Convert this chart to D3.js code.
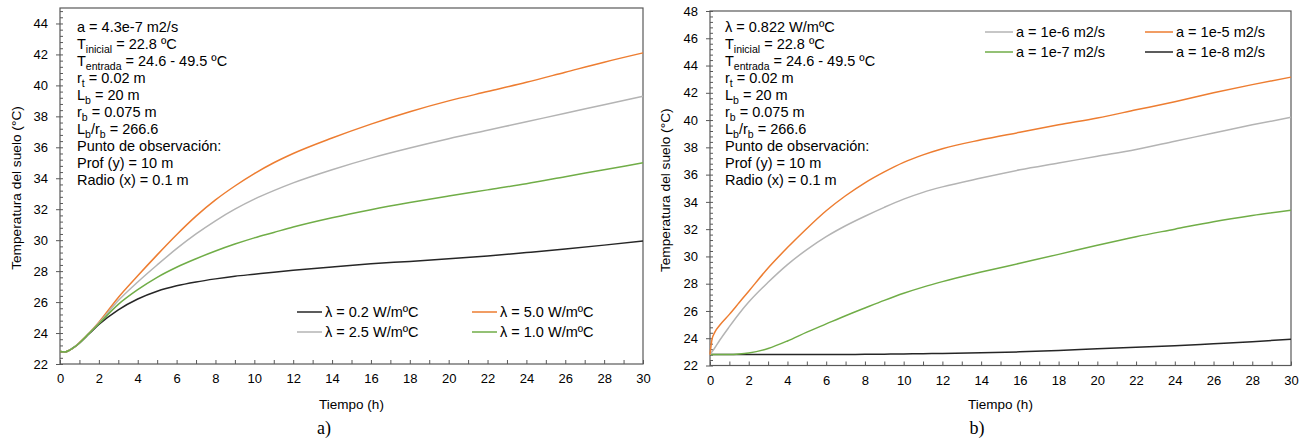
<!DOCTYPE html>
<html><head><meta charset="utf-8">
<script src="https://cdn.jsdelivr.net/npm/d3@7"></script>
<style>
body{margin:0;background:#fff}
svg{display:block}
text{font-family:"Liberation Sans",Arial,sans-serif;fill:#000}
</style>
</head><body>
<svg id="c" width="1302" height="440"></svg>
<script>
// ---------- DATA ----------
// Panel a) : effect of conductivity (lambda)
const timeA = [0,0.25,0.5,0.75,1,1.5,2,3,4,5,6,7,8,9,10,11,12,14,16,18,20,22,24,26,28,30];
const lam02 = [22.8,22.78,22.9,23.1,23.35,23.95,24.55,25.5,26.2,26.7,27.05,27.3,27.5,27.67,27.8,27.93,28.05,28.27,28.47,28.63,28.8,28.98,29.2,29.43,29.68,29.95];
const lam50 = [22.8,22.78,22.9,23.1,23.38,24.0,24.7,26.3,27.7,29.05,30.35,31.55,32.6,33.5,34.3,35.0,35.6,36.6,37.5,38.3,39.0,39.6,40.2,40.85,41.5,42.1];
const lam25 = [22.8,22.78,22.9,23.1,23.37,24.0,24.65,26.1,27.3,28.4,29.45,30.4,31.25,32.0,32.65,33.2,33.7,34.55,35.3,35.95,36.55,37.1,37.65,38.2,38.75,39.3];
const lam10 = [22.8,22.78,22.9,23.1,23.36,23.98,24.6,25.85,26.8,27.6,28.25,28.8,29.3,29.75,30.15,30.5,30.85,31.45,31.97,32.43,32.85,33.25,33.65,34.1,34.55,35.0];
const legendA = ["λ = 0.2 W/mºC","λ = 5.0 W/mºC","λ = 2.5 W/mºC","λ = 1.0 W/mºC"];

// Panel b) : effect of diffusivity (a)
const timeB = [0,0.1,0.25,0.5,1,1.5,2,3,4,5,6,7,8,9,10,11,12,14,16,18,20,22,24,26,28,30];
const a1e6 = [22.8,23.0,23.3,23.85,24.85,25.8,26.65,28.1,29.4,30.5,31.45,32.25,32.95,33.6,34.2,34.7,35.1,35.75,36.35,36.85,37.35,37.85,38.45,39.05,39.65,40.2];
const a1e5 = [22.8,23.9,24.45,24.95,25.75,26.6,27.45,29.15,30.65,32.05,33.35,34.45,35.4,36.2,36.9,37.45,37.9,38.55,39.1,39.65,40.15,40.75,41.35,42.0,42.6,43.15];
const a1e7 = [22.8,22.8,22.8,22.8,22.8,22.84,22.92,23.25,23.8,24.45,25.05,25.65,26.22,26.78,27.3,27.75,28.15,28.85,29.5,30.15,30.82,31.45,32.0,32.55,33.0,33.38];
const a1e8 = [22.8,22.8,22.8,22.8,22.8,22.8,22.8,22.8,22.8,22.8,22.8,22.81,22.82,22.83,22.85,22.865,22.88,22.93,23.0,23.1,23.22,23.33,23.45,23.6,23.75,23.92];
const legendB = ["a = 1e-6 m2/s","a = 1e-5 m2/s","a = 1e-7 m2/s","a = 1e-8 m2/s"];

const xTicks = [0,2,4,6,8,10,12,14,16,18,20,22,24,26,28,30];
const yTicksA = [22,24,26,28,30,32,34,36,38,40,42,44];
const yTicksB = [22,24,26,28,30,32,34,36,38,40,42,44,46,48];

// annotation lines: each line is list of [text, isSubscript]
const notesA = [
  [["a = 4.3e-7 m2/s",0]],
  [["T",0],["inicial",1],[" = 22.8 ºC",0]],
  [["T",0],["entrada",1],[" = 24.6 - 49.5 ºC",0]],
  [["r",0],["t",1],[" = 0.02 m",0]],
  [["L",0],["b",1],[" = 20 m",0]],
  [["r",0],["b",1],[" = 0.075 m",0]],
  [["L",0],["b",1],["/r",0],["b",1],[" = 266.6",0]],
  [["Punto de observación:",0]],
  [["Prof (y) = 10 m",0]],
  [["Radio (x) = 0.1 m",0]]
];
const notesB = [[["λ = 0.822 W/mºC",0]]].concat(notesA.slice(1));

const C = {orange:"#ED7D31", gray:"#B4B4B4", green:"#70AD47", black:"#262626"};

// ---------- DRAW ----------
const svg = d3.select("#c");

function panel(cfg){
  const g = svg.append("g");
  const x = d3.scaleLinear().domain([0,30]).range([cfg.x0,cfg.x1]);
  const y = d3.scaleLinear().domain(cfg.yDomain).range([cfg.y1,cfg.y0]);
  const axisCol = "#595959";

  // x ticks (inside) every 1
  g.append("g").attr("transform",`translate(0,${cfg.y1})`)
    .call(d3.axisTop(x).tickValues(d3.range(0,31,1)).tickSize(4).tickFormat(""))
    .call(s=>{s.select(".domain").remove(); s.selectAll("line").attr("stroke",axisCol);});
  // x labels
  g.append("g").attr("transform",`translate(0,${cfg.y1})`)
    .call(d3.axisBottom(x).tickValues(xTicks).tickSize(0).tickPadding(10).tickFormat(d3.format("d")))
    .call(s=>{s.select(".domain").remove(); s.selectAll("text").attr("font-size",13).attr("font-family","Liberation Sans, Arial");});

  // y minor ticks (inside)
  const minor = d3.range(cfg.yDomain[0], cfg.yDomain[1]+0.001, 0.4);
  g.append("g").attr("transform",`translate(${cfg.x0},0)`)
    .call(d3.axisRight(y).tickValues(minor).tickSize(3).tickFormat(""))
    .call(s=>{s.select(".domain").remove(); s.selectAll("line").attr("stroke",axisCol);});
  // y major ticks (outside) + labels
  g.append("g").attr("transform",`translate(${cfg.x0},0)`)
    .call(d3.axisLeft(y).tickValues(cfg.yTicks).tickSize(4).tickPadding(8).tickFormat(d3.format("d")))
    .call(s=>{s.select(".domain").remove(); s.selectAll("line").attr("stroke",axisCol);
      s.selectAll("text").attr("font-size",13).attr("font-family","Liberation Sans, Arial");});

  // frame
  g.append("rect").attr("x",cfg.x0).attr("y",cfg.y0)
    .attr("width",cfg.x1-cfg.x0).attr("height",cfg.y1-cfg.y0)
    .attr("fill","none").attr("stroke",axisCol).attr("stroke-width",1.2);

  // series
  const line = d3.line().x(d=>x(d[0])).y(d=>y(d[1])).curve(d3.curveMonotoneX);
  cfg.series.forEach(s=>{
    g.append("path").datum(cfg.time.map((t,i)=>[t,s.v[i]]))
      .attr("d",line).attr("fill","none").attr("stroke",s.c).attr("stroke-width",1.5);
  });

  // annotation
  cfg.notes.forEach((ln,i)=>{
    const t = g.append("text").attr("x",cfg.noteX).attr("y",cfg.noteY+i*17).attr("font-size",14.5);
    let sub=false;
    ln.forEach(([txt,isSub])=>{
      const ts = t.append("tspan").text(txt);
      if(isSub && !sub){ ts.attr("font-size",10.5).attr("dy",4); sub=true; }
      else if(isSub && sub){ ts.attr("font-size",10.5); }
      else if(!isSub && sub){ ts.attr("dy",-4); sub=false; }
    });
  });

  // legend
  cfg.legend.forEach((L,i)=>{
    const col = i%2, row = Math.floor(i/2);
    const lx = cfg.legX[col], ly = cfg.legY + row*20;
    g.append("line").attr("x1",lx).attr("x2",lx+cfg.legLen).attr("y1",ly).attr("y2",ly)
      .attr("stroke",L.c).attr("stroke-width",1.5);
    g.append("text").attr("x",lx+cfg.legLen+3).attr("y",ly+5).attr("font-size",14.5).text(L.t);
  });

  // axis titles
  g.append("text").attr("transform",`translate(${cfg.ytX},${(cfg.y0+cfg.y1)/2+2}) rotate(-90)`)
    .attr("text-anchor","middle").attr("font-size",13.7).text("Temperatura del suelo (°C)");
  g.append("text").attr("x",(cfg.x0+cfg.x1)/2).attr("y",409).attr("text-anchor","middle")
    .attr("font-size",13.5).text("Tiempo (h)");
  g.append("text").attr("x",cfg.capX).attr("y",434).attr("text-anchor","middle")
    .attr("font-size",18).style("font-family","Liberation Serif, Times New Roman, serif").text(cfg.cap);
}

panel({
  x0:60,x1:643,y0:8,y1:364,yDomain:[22,45],yTicks:yTicksA,time:timeA,
  series:[{v:lam02,c:C.black},{v:lam50,c:C.orange},{v:lam25,c:C.gray},{v:lam10,c:C.green}],
  notes:notesA,noteX:77,noteY:32,
  legend:[{t:legendA[0],c:C.black},{t:legendA[1],c:C.orange},{t:legendA[2],c:C.gray},{t:legendA[3],c:C.green}],
  legX:[297,472],legY:312,legLen:25,ytX:21,cap:"a)",capX:324
});
panel({
  x0:710,x1:1291,y0:11,y1:365.5,yDomain:[22,48],yTicks:yTicksB,time:timeB,
  series:[{v:a1e8,c:C.black},{v:a1e7,c:C.green},{v:a1e6,c:C.gray},{v:a1e5,c:C.orange}],
  notes:notesB,noteX:725,noteY:32,
  legend:[{t:legendB[0],c:C.gray},{t:legendB[1],c:C.orange},{t:legendB[2],c:C.green},{t:legendB[3],c:C.black}],
  legX:[985,1145],legY:32,legLen:28,ytX:670,cap:"b)",capX:977
});
</script>
</body></html>
